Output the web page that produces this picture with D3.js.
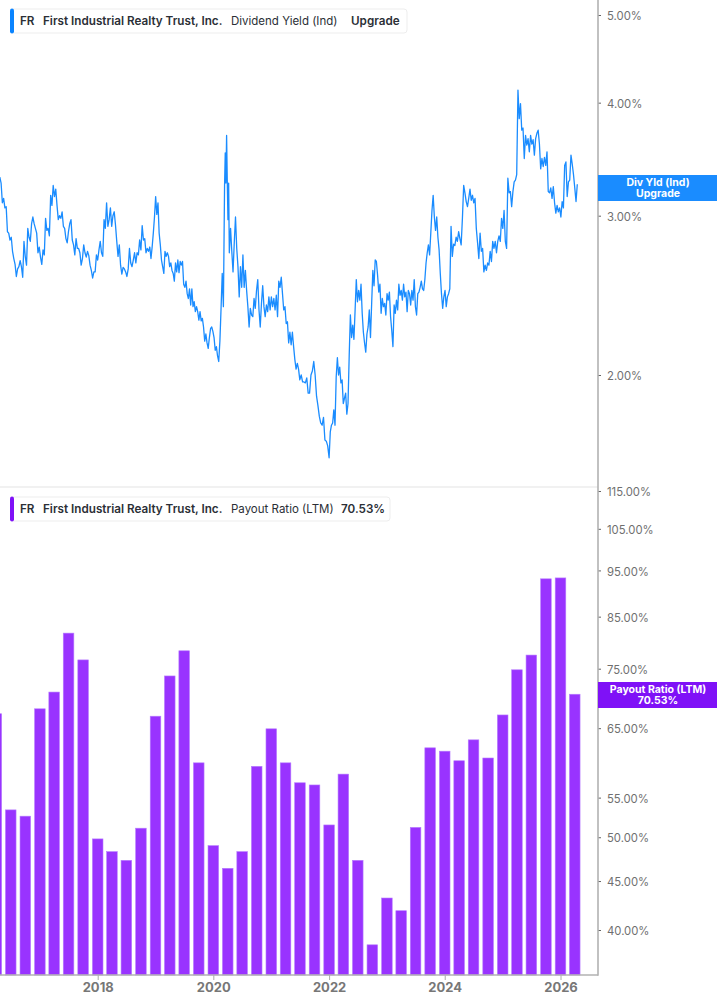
<!DOCTYPE html>
<html>
<head>
<meta charset="utf-8">
<script src="https://cdn.jsdelivr.net/npm/d3@7"></script>
<style>
  body { margin: 0; background: #fff; }
  svg { display: block; font-family: Inter, "Noto Sans", sans-serif; }
  .axis path { display: none; }
</style>
</head>
<body>
<svg id="chart" width="717" height="1005"></svg>
<script>
// Dividend yield (%) in stretches between these dates
const yieldBreaks = [
  "2016-04-23", "2018-11-26", "2020-03-12", "2020-04-11", "2021-06-30",
  "2022-01-01", "2023-09-20", "2023-09-28", "2024-02-02", "2026-04-25",
];
const yieldPart1 = [
  3.31, 3.26, 3.10, 3.135, 3.06, 3.07, 2.88, 2.87, 2.82, 2.84, 2.74, 2.69, 2.65, 2.57, 2.62, 2.635, 2.675, 2.635, 2.565,
  2.81, 2.705, 2.645, 2.905, 2.84, 2.81, 2.94, 2.99, 2.94, 2.905, 2.87, 2.73, 2.77, 2.70, 2.65, 2.75, 2.715, 2.98, 2.89,
  2.905, 2.85, 3.16, 3.08, 3.24, 3.15, 3.21, 3.08, 2.97, 3.00, 2.98, 3.03, 2.92, 2.905, 2.83, 2.80, 2.88, 2.94, 2.97,
  2.82, 2.785, 2.715, 2.83, 2.76, 2.76, 2.73, 2.645, 2.69, 2.785, 2.73, 2.70, 2.74, 2.71, 2.645, 2.61, 2.56, 2.60, 2.60,
  2.715, 2.68, 2.75, 2.81, 2.73, 2.705, 2.97, 2.905, 3.10, 2.92, 2.97, 3.06, 2.92, 3.00, 3.03, 2.93, 2.81, 2.705, 2.785,
  2.645, 2.585, 2.63, 2.62, 2.60, 2.57, 2.62, 2.76, 2.66, 2.635, 2.68, 2.73, 2.66, 2.73, 2.715, 2.82, 2.75, 2.925, 2.82,
  2.83, 2.73, 2.76, 2.74,
];
const yieldPart2 = [
  2.77, 2.69, 2.77, 2.87, 2.99, 3.15, 3.01, 3.10, 2.87, 2.785, 2.68, 2.635, 2.59, 2.74, 2.705, 2.73, 2.705, 2.635, 2.66,
  2.61, 2.59, 2.54, 2.66, 2.60, 2.68, 2.595, 2.67, 2.645, 2.67, 2.52, 2.50, 2.54, 2.46, 2.43, 2.49, 2.39, 2.49, 2.38,
  2.41, 2.35, 2.38, 2.35, 2.30, 2.35, 2.295, 2.31, 2.26, 2.18, 2.22, 2.17, 2.14, 2.20, 2.25, 2.26, 2.235, 2.20, 2.13,
  2.15, 2.10, 2.07, 2.18, 2.37, 2.59, 2.38,
];
const yieldPart3 = [3.24, 3.52, 3.26, 3.68, 3.27, 2.97, 3.26];
const yieldPart4 = [
  2.73, 2.905, 2.74, 2.60, 2.80, 2.99, 2.76, 2.635, 2.44, 2.635, 2.50, 2.715, 2.50, 2.61, 2.48, 2.38, 2.26, 2.37, 2.33,
  2.32, 2.43, 2.37, 2.48, 2.55, 2.36, 2.26, 2.40, 2.51, 2.38, 2.32, 2.39, 2.35, 2.44, 2.36, 2.44, 2.38, 2.43, 2.36,
  2.45, 2.32, 2.54, 2.50, 2.565, 2.46, 2.36, 2.38, 2.28, 2.29, 2.17, 2.23, 2.16, 2.23, 2.15, 2.08, 2.03, 2.06, 2.03,
];
const yieldPart5 = [
  1.975, 2.00, 1.965, 1.965, 1.96, 1.985, 1.91, 1.91, 2.00, 2.02, 2.07, 2.00, 1.895, 1.85, 1.80, 1.77, 1.76, 1.795,
  1.695, 1.69, 1.67,
];
const yieldPart6 = [
  1.62, 1.73, 1.76, 1.77, 1.83, 1.76, 1.99, 2.09, 2.00, 2.04, 1.96, 1.975, 1.86, 1.885, 1.91, 1.81,
  1.86, 2.10, 2.33, 2.20, 2.27, 2.19, 2.36, 2.55, 2.41, 2.48, 2.42, 2.52, 2.34, 2.23, 2.17, 2.12, 2.22, 2.26, 2.36,
  2.20, 2.40, 2.61, 2.51, 2.68, 2.67, 2.58, 2.47, 2.52, 2.34, 2.43, 2.38, 2.40, 2.33, 2.46, 2.42, 2.47, 2.32, 2.24,
  2.15, 2.39, 2.34, 2.42, 2.36, 2.52, 2.45, 2.48, 2.42, 2.52, 2.44, 2.47, 2.35, 2.48, 2.46, 2.39, 2.48, 2.42, 2.55,
  2.38, 2.33, 2.46, 2.47, 2.50, 2.54, 2.49, 2.48, 2.55, 2.66, 2.73,
];
const yieldPart7 = [2.785];
const yieldPart8 = [
  2.715, 2.87, 3.04, 3.16, 2.99, 2.89, 2.99, 2.84, 2.75, 2.59, 2.46, 2.37, 2.44, 2.48, 2.38, 2.44, 2.46,
];
const yieldPart9 = [
  2.49, 2.92, 2.705, 2.79, 2.78, 2.84, 2.81, 2.88, 2.83, 2.785, 2.98, 3.24, 3.18, 3.11, 3.07, 3.135, 3.21, 3.12, 3.16,
  3.10, 3.135, 2.905, 2.80, 2.69, 2.87, 2.74, 2.76, 2.60, 2.645, 2.61, 2.66, 2.645, 2.74, 2.67, 2.81, 2.76, 2.81, 2.73,
  2.81, 2.85, 2.81, 2.98, 2.905, 3.04, 2.81, 2.76, 3.30, 3.18, 3.19, 3.07, 3.19, 3.27, 3.285, 3.33, 4.13, 3.84, 3.99,
  3.73, 3.75, 3.47, 3.68, 3.59, 3.65, 3.53, 3.68, 3.60, 3.64, 3.50, 3.65, 3.70, 3.73, 3.60, 3.38, 3.47, 3.40, 3.48,
  3.41, 3.53, 3.19, 3.18, 3.22, 3.135, 3.23, 3.10, 3.02, 3.08, 3.03, 3.06, 2.99, 3.11, 3.06, 3.41, 3.44, 3.15, 3.27,
  3.285, 3.50, 3.42, 3.33, 3.22, 3.11, 3.25,
];
const yieldParts = [
  yieldPart1, yieldPart2, yieldPart3, yieldPart4, yieldPart5, yieldPart6, yieldPart7.concat(yieldPart8), yieldPart9,
];
const yieldStarts = [0, 1, 2, 3, 4, 5, 6, 8];
const yieldEnds = [1, 2, 3, 4, 5, 6, 8, 9];
const yieldTicks = [2, 3, 4, 5];

// Payout ratio (%), one bar per quarter from this date on
const payoutFirstQuarter = "2016-04-01";
const payoutValues = [
  67.3, 53.4, 52.6, 68.1, 70.9, 81.7, 76.6, 49.8, 48.3, 47.3, 51.1, 66.9, 73.7, 78.3, 59.8, 49.0, 46.4, 48.3, 59.3, 64.9,
  59.8, 57.0, 56.7, 51.5, 58.2, 47.3, 38.6, 43.2, 41.9, 51.2, 62.0, 61.5, 60.1, 63.2, 60.5, 67.1, 74.8, 77.5, 93.1, 93.3,
  70.53,
];
const payoutTicks = [40, 45, 50, 55, 65, 75, 85, 95, 105, 115];
const yearTicks = [2018, 2020, 2022, 2024, 2026];

const BLUE = "#1a8cff";
const PURPLE = "#9933ff";
const plotRight = 598;
const plotBottom = 975;

const svg = d3.select("#chart");
const parse = d3.timeParse("%Y-%m-%d");

const x = d3.scaleTime().domain([new Date(2018, 0, 1), new Date(2026, 0, 1)]).range([97.7, 560.5]);
const yYield = d3.scaleLog().domain([2, 5]).range([375, 15]);
const yPayout = d3.scaleLog().domain([40, 115]).range([930, 491]);

// Spread each stretch evenly between its two dates
const yieldData = yieldParts.flatMap((part, p) => {
  const when = d3.scaleLinear().domain([0, part.length])
    .range([parse(yieldBreaks[yieldStarts[p]]), parse(yieldBreaks[yieldEnds[p]])]);
  return part.map((value, i) => ({ date: new Date(when(i)), value }));
});

const payoutData = payoutValues.map((value, i) => ({
  date: d3.timeMonth.offset(parse(payoutFirstQuarter), i * 3),
  value,
}));

// Panel divider
svg.append("line").attr("x1", 0).attr("x2", plotRight).attr("y1", 487).attr("y2", 487)
  .attr("stroke", "#e4e4e4").attr("stroke-width", 1.2);

// Bars
svg.append("g").selectAll("rect").data(payoutData).join("rect")
  .attr("x", (d) => x(d.date) - 5.3)
  .attr("y", (d) => yPayout(d.value))
  .attr("width", 10.6)
  .attr("height", (d) => plotBottom - yPayout(d.value))
  .attr("fill", PURPLE)
  .attr("stroke", "#b77cff")
  .attr("stroke-width", 0.6);

// Yield line
const line = d3.line().x((d) => x(d.date)).y((d) => yYield(d.value));
svg.append("path").datum(yieldData)
  .attr("d", line)
  .attr("fill", "none")
  .attr("stroke", BLUE)
  .attr("stroke-width", 1.3)
  .attr("stroke-linejoin", "round");

// Axes
function rightAxis(scale, ticks) {
  const g = svg.append("g").attr("class", "axis").attr("transform", `translate(${plotRight},0)`)
    .call(d3.axisRight(scale).tickValues(ticks).tickSize(3).tickPadding(6).tickFormat((d) => d.toFixed(2) + "%"));
  g.selectAll(".tick line").attr("stroke", "#666");
  g.selectAll(".tick text")
    .attr("dy", "0.42em")
    .style("font-family", "Inter")
    .style("font-size", "11.3px")
    .attr("fill", "#6f6f6f");
}
rightAxis(yYield, yieldTicks);
rightAxis(yPayout, payoutTicks);

const xAxis = svg.append("g").attr("class", "axis").attr("transform", `translate(0,${plotBottom})`)
  .call(d3.axisBottom(x).tickValues(yearTicks.map((y) => new Date(y, 0, 1))).tickSize(5).tickPadding(3).tickFormat(d3.timeFormat("%Y")));
xAxis.selectAll(".tick line").attr("stroke", "#aaa");
xAxis.selectAll(".tick text").style("font-family", "Inter").style("font-size", "13px").style("font-weight", 700).attr("fill", "#777");

svg.append("line").attr("x1", plotRight).attr("x2", plotRight).attr("y1", 0).attr("y2", plotBottom + 0.7)
  .attr("stroke", "#b2b2b2").attr("stroke-width", 1.6);
svg.append("line").attr("x1", 0).attr("x2", plotRight).attr("y1", plotBottom).attr("y2", plotBottom)
  .attr("stroke", "#b2b2b2").attr("stroke-width", 1.4);

// Value tags on the right axis
function tag(top, color, lines) {
  svg.append("rect").attr("x", plotRight).attr("y", top).attr("width", 717 - plotRight).attr("height", 26).attr("fill", color);
  svg.append("g").selectAll("text").data(lines).join("text")
    .attr("x", 658)
    .attr("y", (_, i) => top + 11 + i * 11.2)
    .attr("text-anchor", "middle")
    .attr("fill", "#fff")
    .attr("font-size", 10.5)
    .attr("font-weight", 700)
    .text((d) => d);
}
tag(175, "#1a8cff", ["Div Yld (Ind)", "Upgrade"]);
tag(682, "#7f11f7", ["Payout Ratio (LTM)", "70.53%"]);

// Legend chips
function legend(top, right, color, pieces) {
  svg.append("rect").attr("x", 10.5).attr("y", top + 0.5).attr("width", right - 10.5).attr("height", 24).attr("rx", 3)
    .attr("fill", "#fff").attr("stroke", "#ededed");
  svg.append("rect").attr("x", 10).attr("y", top).attr("width", 4).attr("height", 25).attr("rx", 2).attr("fill", color);
  svg.append("g").selectAll("text").data(pieces).join("text")
    .attr("x", (d) => d.x)
    .attr("y", top + 16.5)
    .attr("fill", "#2b2f36")
    .attr("font-size", (d) => (d.bold ? 11.7 : 11.5))
    .attr("font-weight", (d) => (d.bold ? 600 : 400))
    .text((d) => d.text);
}
legend(8.5, 407, "#0a84ff", [
  { x: 20, text: "FR", bold: true },
  { x: 43, text: "First Industrial Realty Trust, Inc.", bold: true },
  { x: 231, text: "Dividend Yield (Ind)" },
  { x: 351, text: "Upgrade", bold: true },
]);
legend(496.5, 390, "#7f11f7", [
  { x: 20, text: "FR", bold: true },
  { x: 43, text: "First Industrial Realty Trust, Inc.", bold: true },
  { x: 231, text: "Payout Ratio (LTM)" },
  { x: 341, text: "70.53%", bold: true },
]);
</script>
</body>
</html>
